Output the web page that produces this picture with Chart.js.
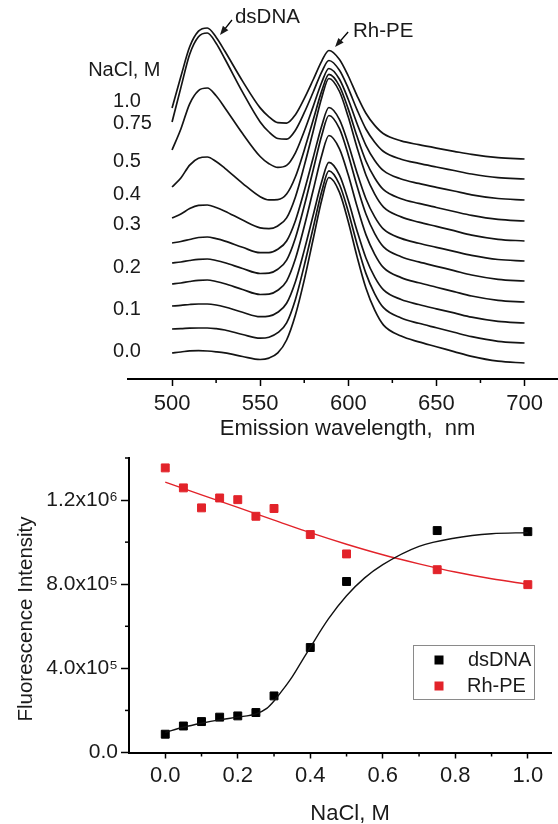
<!DOCTYPE html>
<html>
<head>
<meta charset="utf-8">
<script src="https://cdn.jsdelivr.net/npm/chart.js@4.4.1/dist/chart.umd.min.js"></script>
<style>
  html, body { margin: 0; padding: 0; background: #fff; overflow: hidden; }
  #wrap { position: relative; width: 558px; height: 824px; }
  #spectra { position: absolute; left: 0; top: 0; }
  #titration { position: absolute; left: 0; top: 440px; }
</style>
</head>
<body>
<div id="wrap">
  <canvas id="spectra" width="558" height="440"></canvas>
  <canvas id="titration" width="558" height="384"></canvas>
</div>
<script>
// ---- top panel: stacked emission spectra (arbitrary units, offset per NaCl) ----
const wavelengths = [500, 505, 510, 515, 520, 525, 530, 540, 550, 555, 560, 565, 570, 575, 580, 585, 589, 595, 600, 605, 610, 615, 620, 630, 640, 650, 660, 670, 685, 700];
const wl_ticks = [500, 525, 550, 575, 600, 625, 650, 675, 700];

const em_000 = [26, 27, 28.2, 28.4, 28, 27.2, 26.1, 22.5, 19.5, 20.9, 26.1, 39, 64, 98.9, 139.2, 179.5, 201.5, 186.7, 157.3, 122.1, 90.9, 68.8, 53.9, 42.9, 37.1, 32.3, 27.4, 22.6, 17.8, 16];
const em_005 = [50, 50.3, 50.8, 51, 51, 50.3, 49, 44.5, 40.8, 41.8, 46.3, 56.1, 79.6, 113.4, 150.6, 187.9, 208.2, 194.5, 167.3, 134.6, 105.6, 85.2, 71.3, 61, 55.7, 51.2, 46.7, 42.3, 37.7, 36];
const em_010 = [73, 73.6, 74.5, 75, 75, 74, 72, 66.7, 62.3, 62.9, 66.8, 75.7, 97.3, 128.6, 163.2, 197.7, 216.6, 203.9, 178.4, 148, 121, 101.9, 89.1, 79.5, 74.5, 70.2, 66.1, 61.8, 57.6, 56];
const em_015 = [95, 96, 97.5, 98.7, 99, 97.5, 95.3, 89.5, 84.5, 84.9, 88.8, 97.9, 120.2, 152.5, 188.2, 224, 243.5, 230.2, 203.9, 172.4, 144.4, 124.7, 111.3, 101.4, 96.2, 91.8, 87.4, 83, 78.7, 77];
const em_020 = [116, 117, 118.5, 119.7, 120, 118.5, 116.3, 110.5, 105.5, 105.9, 109.8, 118.8, 141, 173, 208.5, 244, 263.5, 250.3, 224.1, 192.8, 165, 145.4, 132.1, 122.3, 117.1, 112.7, 108.4, 104, 99.7, 98];
const em_025 = [136, 137.5, 139.5, 141.5, 142, 140.3, 137.9, 131.7, 126.3, 126.4, 129.8, 138, 158.3, 188, 220.8, 253.6, 271.5, 259.4, 235.1, 206, 180.3, 162.1, 149.8, 140.6, 135.8, 131.7, 127.6, 123.6, 119.5, 118];
const em_030 = [161, 165, 170.4, 173.6, 174, 171.5, 167.8, 158.9, 151.1, 150.4, 153.1, 161.1, 182.1, 213.1, 247.3, 281.8, 300.5, 287.5, 261.9, 231.2, 204, 184.9, 171.9, 162.1, 156.9, 152.6, 148.3, 143.9, 139.7, 138];
const em_040 = [192, 201, 213.9, 220.8, 222, 217.5, 210.7, 195.7, 182.3, 179.1, 179.4, 184.9, 202.2, 228.8, 258.5, 288.4, 304.6, 292.9, 269.9, 242.4, 218, 201, 189.3, 180.3, 175.6, 171.5, 167.5, 163.6, 159.6, 158];
const em_050 = [229, 250, 275.2, 288.4, 291, 283.2, 271.1, 245.5, 222.5, 215.3, 211.6, 213.6, 226.2, 247.7, 272.1, 297, 310.5, 299.8, 279.5, 255.2, 233.7, 218.6, 208.3, 200, 195.6, 191.7, 188, 184.2, 180.5, 179];
const em_075 = [257, 291.4, 324.8, 342.3, 346, 335.8, 320, 286.9, 257.1, 247, 240.5, 239.8, 248.8, 266.3, 286.5, 307.4, 318.5, 308.7, 290.6, 269.1, 250, 236.8, 227.5, 219.8, 215.6, 212, 208.5, 205, 201.4, 200];
const em_100 = [271, 302.4, 332.2, 347.8, 351, 341.8, 327.7, 297.9, 271.1, 262.2, 256.3, 255.9, 264.3, 280.4, 299, 318.2, 328.5, 319.5, 303, 283.2, 265.7, 253.6, 245.2, 238.1, 234.3, 230.9, 227.7, 224.6, 221.4, 220];
const spectra = [em_000, em_005, em_010, em_015, em_020, em_025, em_030, em_040, em_050, em_075, em_100];

// left-hand concentration labels (placed on the spectra scales)
const conc_labels = ['1.0', '0.75', '0.5', '0.4', '0.3', '0.2', '0.1', '0.0'];
const conc_label_y = [278, 255.5, 217.5, 185, 155, 112, 70, 27.5];

// ---- bottom panel: intensity vs NaCl ----
const nacl_conc = [0, 0.05, 0.1, 0.15, 0.2, 0.25, 0.3, 0.4, 0.5, 0.75, 1.0];
const dsdna_int = [0.87e5, 1.26e5, 1.47e5, 1.68e5, 1.74e5, 1.9e5, 2.69e5, 4.99e5, 8.13e5, 1.055e6, 1.05e6];
const rhpe_int = [1.353e6, 1.258e6, 1.163e6, 1.21e6, 1.202e6, 1.123e6, 1.16e6, 1.036e6, 0.944e6, 0.869e6, 0.798e6];
const dsdna_fit_x = [0, 0.05, 0.1, 0.15, 0.2, 0.25, 0.28, 0.3, 0.325, 0.35, 0.375, 0.4, 0.45, 0.5, 0.55, 0.6, 0.7, 0.8, 0.9, 1.0];
const dsdna_fit_y = [0.96e5, 1.2e5, 1.39e5, 1.55e5, 1.68e5, 1.84e5, 2.1e5, 2.45e5, 3.0e5, 3.6e5, 4.3e5, 5.0e5, 6.35e5, 7.45e5, 8.3e5, 8.93e5, 9.8e5, 1.02e6, 1.04e6, 1.045e6];
const rhpe_fit_x = [0, 0.1, 0.2, 0.3, 0.4, 0.5, 0.6, 0.7, 0.8, 0.9, 1.0];
const rhpe_fit_y = [1.285e6, 1.225e6, 1.165e6, 1.105e6, 1.045e6, 0.99e6, 0.94e6, 0.897e6, 0.858e6, 0.826e6, 0.80e6];
const x_ticks = [0, 0.1, 0.2, 0.3, 0.4, 0.5, 0.6, 0.7, 0.8, 0.9, 1.0];
const y_ticks = [0, 2e5, 4e5, 6e5, 8e5, 1e6, 1.2e6, 1.4e6];

const FONT = '"Liberation Sans", Arial, Helvetica, sans-serif';
const INK = '#1a1a1a';
const RED = '#e2232a';
const SUP = { 5: '\u2075', 6: '\u2076' };

Chart.defaults.font.family = FONT;
Chart.defaults.color = INK;

function xy(xs, ys) {
    return xs.map((v, i) => ({ x: v, y: ys[i] }));
}

function sciLabel(v) {
    if (v === 0) return '0.0';
    const e = Math.floor(Math.log10(v) + 1e-9);
    return (v / Math.pow(10, e)).toFixed(1) + 'x10' + SUP[e];
}

function arrow(ctx, x0, y0, x1, y1) {
    const a = Math.atan2(y1 - y0, x1 - x0);
    ctx.beginPath();
    ctx.moveTo(x0, y0);
    ctx.lineTo(x1 - 6 * Math.cos(a), y1 - 6 * Math.sin(a));
    ctx.stroke();
    ctx.beginPath();
    ctx.moveTo(x1, y1);
    ctx.lineTo(x1 - 9 * Math.cos(a) + 3.5 * Math.sin(a), y1 - 9 * Math.sin(a) - 3.5 * Math.cos(a));
    ctx.lineTo(x1 - 9 * Math.cos(a) - 3.5 * Math.sin(a), y1 - 9 * Math.sin(a) + 3.5 * Math.cos(a));
    ctx.closePath();
    ctx.fill();
}

// extra drawing for the spectra panel: minor ticks, labels, arrows, title
const spectraDecor = {
    id: 'spectraDecor',
    afterDraw(chart) {
        const { ctx, scales: { x, y } } = chart;
        ctx.save();
        ctx.strokeStyle = '#000';
        ctx.fillStyle = INK;
        ctx.lineWidth = 1.5;
        wl_ticks.filter(v => v % 50 !== 0).forEach(v => {
            const px = x.getPixelForValue(v);
            ctx.beginPath();
            ctx.moveTo(px, y.bottom);
            ctx.lineTo(px, y.bottom + 4);
            ctx.stroke();
        });

        ctx.font = '20px ' + FONT;
        ctx.textAlign = 'left';
        ctx.textBaseline = 'middle';
        ctx.fillText('NaCl, M', x.getPixelForValue(452.4), y.getPixelForValue(309));
        conc_labels.forEach((t, i) => {
            ctx.fillText(t, x.getPixelForValue(466.5), y.getPixelForValue(conc_label_y[i]));
        });

        ctx.font = '20.5px ' + FONT;
        ctx.fillText('dsDNA', x.getPixelForValue(535.7), y.getPixelForValue(361.5));
        ctx.fillText('Rh-PE', x.getPixelForValue(602.7), y.getPixelForValue(348));
        ctx.lineWidth = 1.3;
        arrow(ctx, x.getPixelForValue(534), y.getPixelForValue(359), x.getPixelForValue(527.2), y.getPixelForValue(344));
        arrow(ctx, x.getPixelForValue(599.9), y.getPixelForValue(347), x.getPixelForValue(592.5), y.getPixelForValue(332));

        ctx.font = '22px ' + FONT;
        ctx.textAlign = 'center';
        ctx.fillText('Emission wavelength,  nm', 347.5, 428.5);
        ctx.restore();
    }
};

new Chart(document.getElementById('spectra'), {
    type: 'line',
    data: {
        datasets: spectra.map(s => ({
            data: xy(wavelengths, s),
            borderColor: '#141414',
            borderWidth: 1.7,
            pointRadius: 0,
            fill: false,
            cubicInterpolationMode: 'monotone'
        }))
    },
    options: {
        responsive: false,
        animation: false,
        events: [],
        layout: { padding: { left: 128, right: 0, top: 0, bottom: 0 } },
        plugins: { legend: { display: false }, tooltip: { enabled: false } },
        scales: {
            x: {
                type: 'linear',
                min: 475,
                max: 719,
                afterBuildTicks: ax => { ax.ticks = wl_ticks.map(v => ({ value: v })); },
                afterFit: ax => { ax.height = 61; },
                border: { color: '#000', width: 2 },
                grid: {
                    drawOnChartArea: false,
                    tickLength: 7,
                    tickWidth: 1.5,
                    tickColor: c => (c.tick && c.tick.value % 50 === 0 ? '#000' : 'rgba(0,0,0,0)')
                },
                ticks: {
                    autoSkip: false,
                    maxRotation: 0,
                    padding: 5,
                    font: { size: 22 },
                    callback: v => (v % 50 === 0 ? String(v) : '')
                }
            },
            y: { display: false, min: 0, max: 379 }
        }
    },
    plugins: [spectraDecor]
});

// extra drawing for the titration panel: minor ticks, legend, axis titles
const titrationDecor = {
    id: 'titrationDecor',
    afterDraw(chart) {
        const { ctx, scales: { x, y } } = chart;
        ctx.save();
        ctx.strokeStyle = '#000';
        ctx.lineWidth = 1.5;
        x_ticks.forEach((v, i) => {
            if (i % 2 === 0) return;
            const px = x.getPixelForValue(v);
            ctx.beginPath();
            ctx.moveTo(px, y.bottom);
            ctx.lineTo(px, y.bottom + 4);
            ctx.stroke();
        });
        y_ticks.forEach((v, i) => {
            if (i % 2 === 0) return;
            const py = y.getPixelForValue(v);
            ctx.beginPath();
            ctx.moveTo(x.left, py);
            ctx.lineTo(x.left - 4, py);
            ctx.stroke();
        });

        // legend box
        ctx.strokeStyle = '#8a8a8a';
        ctx.lineWidth = 1;
        ctx.strokeRect(413.5, 205.5, 121, 54);
        ctx.fillStyle = '#000';
        ctx.fillRect(434.5, 215.5, 9, 9);
        ctx.fillStyle = RED;
        ctx.fillRect(434.5, 241.5, 9, 9);
        ctx.fillStyle = INK;
        ctx.font = '20px ' + FONT;
        ctx.textAlign = 'left';
        ctx.textBaseline = 'middle';
        ctx.fillText('dsDNA', 468, 220);
        ctx.fillText('Rh-PE', 467, 246);

        ctx.font = '22px ' + FONT;
        ctx.textAlign = 'center';
        ctx.fillText('NaCl, M', 350, 374);

        ctx.font = '20.5px ' + FONT;
        ctx.translate(26, 179);
        ctx.rotate(-Math.PI / 2);
        ctx.fillText('Fluorescence Intensity', 0, 0);
        ctx.restore();
    }
};

new Chart(document.getElementById('titration'), {
    type: 'scatter',
    data: {
        datasets: [
            {
                data: xy(dsdna_fit_x, dsdna_fit_y),
                showLine: true,
                borderColor: '#111',
                borderWidth: 1.4,
                pointRadius: 0,
                cubicInterpolationMode: 'monotone'
            },
            {
                data: xy(rhpe_fit_x, rhpe_fit_y),
                showLine: true,
                borderColor: RED,
                borderWidth: 1.4,
                pointRadius: 0,
                cubicInterpolationMode: 'monotone'
            },
            {
                data: xy(nacl_conc, dsdna_int),
                showLine: false,
                pointStyle: 'rect',
                pointRadius: 5.6,
                pointBorderWidth: 1,
                pointBackgroundColor: '#000',
                pointBorderColor: '#000'
            },
            {
                data: xy(nacl_conc, rhpe_int),
                showLine: false,
                pointStyle: 'rect',
                pointRadius: 5.6,
                pointBorderWidth: 1,
                pointBackgroundColor: RED,
                pointBorderColor: RED
            }
        ]
    },
    options: {
        responsive: false,
        animation: false,
        events: [],
        layout: { padding: { left: 0, right: 0, top: 18, bottom: 0 } },
        plugins: { legend: { display: false }, tooltip: { enabled: false } },
        scales: {
            x: {
                type: 'linear',
                min: -0.1,
                max: 1.065,
                afterBuildTicks: ax => { ax.ticks = x_ticks.map(v => ({ value: v })); },
                afterFit: ax => { ax.height = 71.5; },
                border: { color: '#000', width: 2 },
                grid: {
                    drawOnChartArea: false,
                    tickLength: 6,
                    tickWidth: 1.5,
                    tickColor: c => (c.index % 2 === 0 ? '#000' : 'rgba(0,0,0,0)')
                },
                ticks: {
                    autoSkip: false,
                    maxRotation: 0,
                    padding: 4,
                    font: { size: 22 },
                    callback: (v, i) => (i % 2 === 0 ? v.toFixed(1) : '')
                }
            },
            y: {
                min: 0,
                max: 1.4e6,
                afterBuildTicks: ax => { ax.ticks = y_ticks.map(v => ({ value: v })); },
                afterFit: ax => { ax.width = 129; },
                border: { color: '#000', width: 2 },
                grid: {
                    drawOnChartArea: false,
                    tickLength: 8,
                    tickWidth: 1.5,
                    tickColor: c => (c.index % 2 === 0 ? '#000' : 'rgba(0,0,0,0)')
                },
                ticks: {
                    autoSkip: false,
                    padding: 3,
                    font: { size: 21 },
                    callback: (v, i) => (i % 2 === 0 ? sciLabel(v) : '')
                }
            }
        }
    },
    plugins: [titrationDecor]
});
</script>
</body>
</html>
